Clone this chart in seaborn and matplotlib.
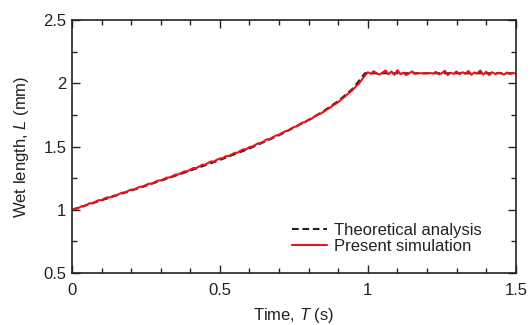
import numpy as np
import pandas as pd
import matplotlib
matplotlib.use('Agg')
import matplotlib.pyplot as plt
import seaborn as sns
from matplotlib.ticker import MultipleLocator

# ── Data ──────────────────────────────────────────────────────
theory_T = [0.0, 0.1, 0.2, 0.3, 0.4, 0.5, 0.6, 0.7, 0.8, 0.85, 0.9, 0.95, 0.99, 1.5]
theory_L = [1.0, 1.075, 1.152, 1.23, 1.31, 1.394, 1.485, 1.59, 1.71, 1.78, 1.86,
            1.96, 2.08, 2.08]

sim_T = np.linspace(0, 1.5, 151)
sim_L = [
    1.000, 1.008, 1.010, 1.026, 1.028, 1.038, 1.052, 1.052, 1.064, 1.076,
    1.076, 1.090, 1.098, 1.098, 1.112, 1.114, 1.126, 1.136, 1.136, 1.150,
    1.160, 1.160, 1.172, 1.182, 1.184, 1.196, 1.206, 1.206, 1.220, 1.230,
    1.232, 1.242, 1.254, 1.256, 1.266, 1.278, 1.280, 1.292, 1.304, 1.304,
    1.318, 1.330, 1.330, 1.342, 1.356, 1.356, 1.370, 1.382, 1.382, 1.396,
    1.406, 1.408, 1.424, 1.426, 1.438, 1.450, 1.452, 1.468, 1.478, 1.480,
    1.496, 1.500, 1.514, 1.526, 1.530, 1.544, 1.558, 1.560, 1.576, 1.588,
    1.594, 1.608, 1.620, 1.626, 1.642, 1.654, 1.660, 1.678, 1.690, 1.696,
    1.714, 1.720, 1.738, 1.752, 1.760, 1.774, 1.790, 1.804, 1.822, 1.836,
    1.852, 1.872, 1.890, 1.912, 1.930, 1.952, 1.976, 1.998, 2.030, 2.060,
    2.088, 2.076, 2.096, 2.078, 2.070, 2.086, 2.102, 2.072, 2.094, 2.068,
    2.104, 2.074, 2.084, 2.066, 2.080, 2.094, 2.076, 2.080, 2.080, 2.078,
    2.080, 2.082, 2.078, 2.090, 2.072, 2.080, 2.100, 2.066, 2.084, 2.076,
    2.094, 2.072, 2.088, 2.076, 2.098, 2.068, 2.086, 2.080, 2.102, 2.070,
    2.092, 2.066, 2.088, 2.074, 2.084, 2.080, 2.070, 2.086, 2.074, 2.082,
    2.078,
]

theory = pd.DataFrame({'T': theory_T, 'L': theory_L})
sim = pd.DataFrame({'T': sim_T, 'L': sim_L})

# ── Style ─────────────────────────────────────────────────────
sns.set_theme(style='ticks')
plt.rcParams['font.family'] = ['Liberation Sans', 'DejaVu Sans']
plt.rcParams['mathtext.fontset'] = 'custom'
plt.rcParams['mathtext.rm'] = 'Liberation Sans'
plt.rcParams['mathtext.it'] = 'Liberation Sans:italic'
plt.rcParams['font.size'] = 11.5

fig = plt.figure(figsize=(5.29, 3.25), dpi=100)
ax = fig.add_axes([0.136, 0.160, 0.839, 0.778])

sns.lineplot(data=theory, x='T', y='L', ax=ax, color='#222222',
             linestyle=(0, (3.2, 1.8)), linewidth=1.5,
             label='Theoretical analysis')
sns.lineplot(data=sim, x='T', y='L', ax=ax, color='#e8141c',
             linewidth=1.5, label='Present simulation')

ax.set_xlim(0, 1.5)
ax.set_ylim(0.5, 2.5)
ax.xaxis.set_minor_locator(MultipleLocator(0.1))
ax.yaxis.set_minor_locator(MultipleLocator(0.25))
ax.set_xticks([0, 0.5, 1, 1.5], ['0', '0.5', '1', '1.5'])
ax.set_yticks([0.5, 1, 1.5, 2, 2.5], ['0.5', '1', '1.5', '2', '2.5'])

ax.tick_params(which='both', direction='in', top=True, right=True,
               colors='#222222', labelsize=12, width=1.0)
ax.tick_params(which='major', length=6)
ax.tick_params(axis='x', which='major', pad=7)
ax.tick_params(axis='y', which='major', pad=4)
ax.tick_params(which='minor', length=3.5)
for s in ax.spines.values():
    s.set_linewidth(1.2)
    s.set_color('#222222')

ax.set_xlabel(r'Time, $T$ (s)', fontsize=12, color='#222222', labelpad=6)
ax.set_ylabel(r'Wet length, $L$ (mm)', fontsize=12, color='#222222', labelpad=9)

leg = ax.legend(loc='lower right', bbox_to_anchor=(0.95, 0.03), frameon=False,
                fontsize=12, handlelength=2.1, handletextpad=0.45,
                labelspacing=0.05, borderpad=0.2)
for t in leg.get_texts():
    t.set_color('#222222')

plt.savefig('out.png', dpi=100)
plt.close()
